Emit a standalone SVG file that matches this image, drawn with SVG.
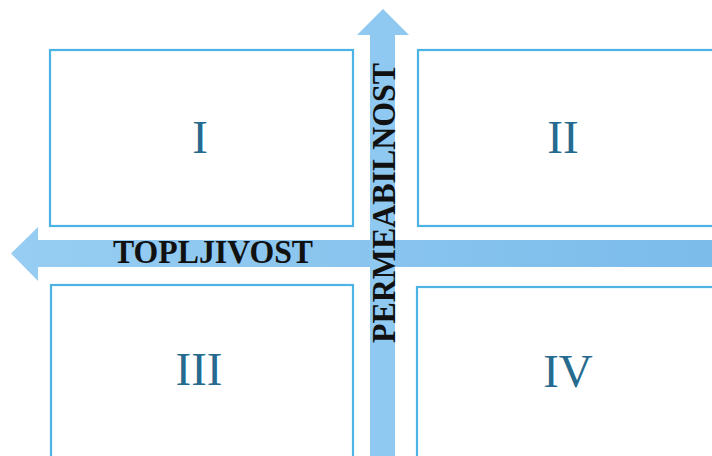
<svg xmlns="http://www.w3.org/2000/svg" width="712" height="456" viewBox="0 0 712 456">
<defs>
<style>
.box{fill:#ffffff;stroke:#4db2e4;stroke-width:2.2}
.num{font-family:"Liberation Serif",serif;font-size:47px;fill:#266b8f;text-anchor:middle}
.lbl{font-family:"Liberation Serif",serif;font-weight:bold;font-size:33px;fill:#111111}
</style>
<linearGradient id="hg" x1="0" y1="0" x2="1" y2="0">
<stop offset="0" stop-color="#97cdf2"/>
<stop offset="1" stop-color="#7bbceb"/>
</linearGradient>
</defs>
<rect width="712" height="456" fill="#ffffff"/>
<g id="box-I"><rect class="box" x="50" y="50" width="303" height="176"/><text class="num" x="200" y="153">I</text></g>
<g id="box-II"><rect class="box" x="418" y="50" width="300" height="176"/><text class="num" x="563" y="153">II</text></g>
<g id="box-III"><rect class="box" x="51" y="285" width="302" height="180"/><text class="num" x="199" y="385">III</text></g>
<g id="box-IV"><rect class="box" x="417" y="287" width="300" height="180"/><text class="num" x="568" y="387">IV</text></g>
<g id="connectors">
<g id="axis-topljivost">
<path d="M712,240 L38,240 L38,227 L11,253.5 L38,281 L38,267 L712,267 Z" fill="url(#hg)"/>
<text class="lbl" x="113" y="263" textLength="200" lengthAdjust="spacingAndGlyphs">TOPLJIVOST</text>
</g>
<g id="axis-permeabilnost">
<path d="M370,456 L370,35 L357,35 L383,9 L409,35 L395,35 L395,456 Z" fill="#8fc8f0"/>
<text class="lbl" transform="translate(395,343) rotate(-90)" x="0" y="0" textLength="280" lengthAdjust="spacingAndGlyphs">PERMEABILNOST</text>
</g>
</g>
</svg>
